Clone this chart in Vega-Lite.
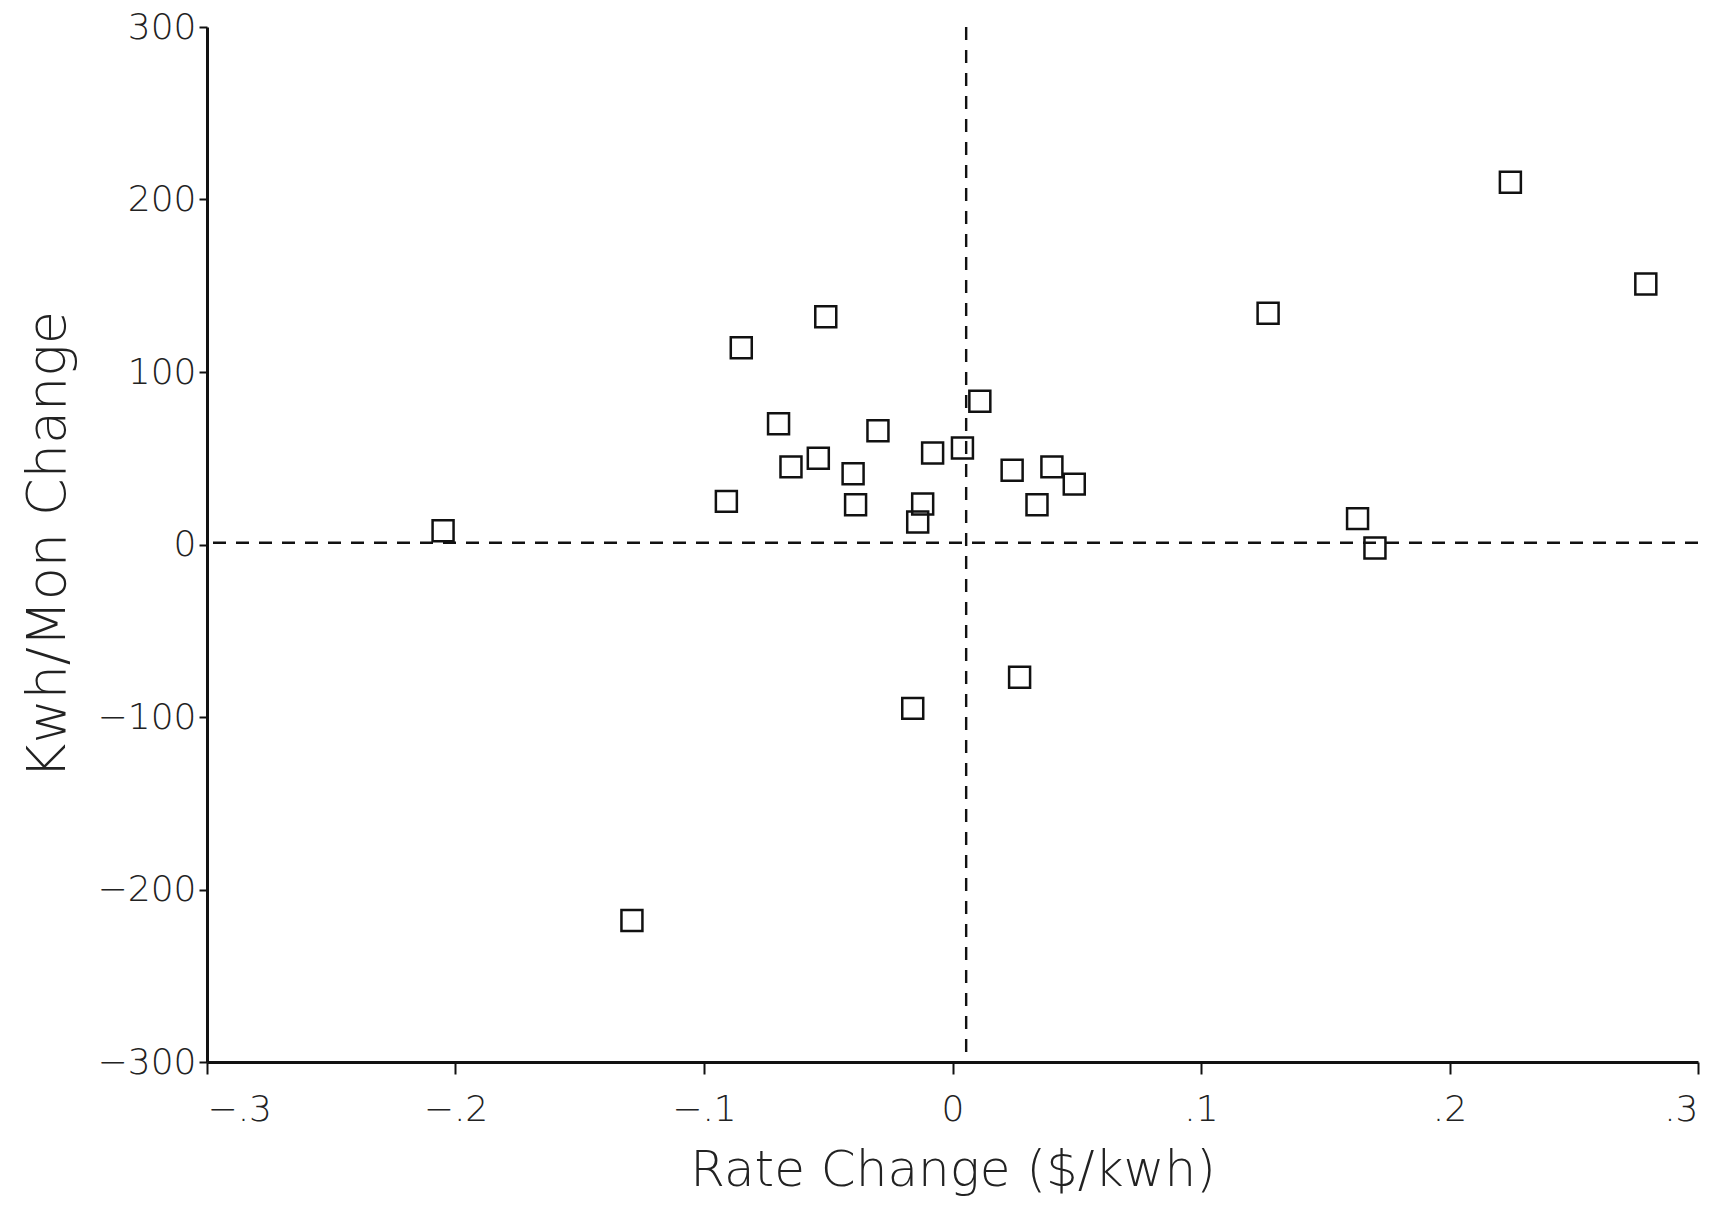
{
  "$schema": "https://vega.github.io/schema/vega-lite/v6.json",
  "width": 1491,
  "height": 1035,
  "autosize": {"type": "none"},
  "padding": {"left": 207, "top": 27, "right": 22, "bottom": 143},
  "background": "white",
  "config": {
    "view": {"stroke": null},
    "font": "DejaVu Sans",
    "axis": {
      "grid": false,
      "domainColor": "#111",
      "domainWidth": 3,
      "tickColor": "#111",
      "tickWidth": 2,
      "tickSize": 10,
      "labelColor": "#222",
      "labelFont": "DejaVu Sans",
      "labelFontSize": 36,
      "labelFontWeight": 200,
      "titleColor": "#222",
      "titleFont": "DejaVu Sans",
      "titleFontSize": 50,
      "titleFontWeight": 200
    }
  },
  "datasets": {
    "pts": [
      {"rate": -0.205, "kwh": 8},
      {"rate": -0.129, "kwh": -218},
      {"rate": -0.091, "kwh": 25},
      {"rate": -0.085, "kwh": 114},
      {"rate": -0.070, "kwh": 70},
      {"rate": -0.065, "kwh": 45},
      {"rate": -0.054, "kwh": 50},
      {"rate": -0.051, "kwh": 132},
      {"rate": -0.040, "kwh": 41},
      {"rate": -0.039, "kwh": 23},
      {"rate": -0.030, "kwh": 66},
      {"rate": -0.014, "kwh": 13},
      {"rate": -0.012, "kwh": 23.5},
      {"rate": -0.008, "kwh": 53},
      {"rate": -0.016, "kwh": -95},
      {"rate": 0.004, "kwh": 56},
      {"rate": 0.011, "kwh": 83},
      {"rate": 0.024, "kwh": 43},
      {"rate": 0.027, "kwh": -77},
      {"rate": 0.034, "kwh": 23},
      {"rate": 0.040, "kwh": 45},
      {"rate": 0.049, "kwh": 35},
      {"rate": 0.127, "kwh": 134},
      {"rate": 0.163, "kwh": 15},
      {"rate": 0.170, "kwh": -2},
      {"rate": 0.2245, "kwh": 210},
      {"rate": 0.279, "kwh": 151}
    ],
    "vref": [{"x": 0.0055}],
    "href": [{"y": 1}]
  },
  "layer": [
    {
      "data": {"name": "href"},
      "mark": {"type": "rule", "stroke": "#111", "strokeWidth": 2.4, "strokeDash": [13, 10]},
      "encoding": {
        "y": {"field": "y", "type": "quantitative", "scale": {"domain": [-300, 300], "nice": false}}
      }
    },
    {
      "data": {"name": "vref"},
      "mark": {"type": "rule", "stroke": "#111", "strokeWidth": 2.4, "strokeDash": [13, 10]},
      "encoding": {
        "x": {"field": "x", "type": "quantitative", "scale": {"domain": [-0.3, 0.3], "nice": false}}
      }
    },
    {
      "data": {"name": "pts"},
      "mark": {"type": "point", "shape": "square", "filled": false, "size": 440, "stroke": "#111", "strokeWidth": 2.5, "opacity": 1},
      "encoding": {
        "x": {
          "field": "rate", "type": "quantitative",
          "scale": {"domain": [-0.3, 0.3], "nice": false, "zero": false},
          "axis": {
            "title": "Rate Change ($/kwh)",
            "values": [-0.3, -0.2, -0.1, 0, 0.1, 0.2, 0.3],
            "labelExpr": "datum.value == 0 ? '0' : replace(format(datum.value, '.1f'), '0.', '.')",
            "labelPadding": 18,
            "tickSize": 12,
            "titlePadding": 18
          }
        },
        "y": {
          "field": "kwh", "type": "quantitative",
          "scale": {"domain": [-300, 300], "nice": false, "zero": false},
          "axis": {
            "title": "Kwh/Mon Change",
            "titleFontSize": 54,
            "values": [-300, -200, -100, 0, 100, 200, 300],
            "format": "d",
            "tickSize": 8,
            "labelPadding": 3,
            "titlePadding": 22
          }
        }
      }
    }
  ]
}
